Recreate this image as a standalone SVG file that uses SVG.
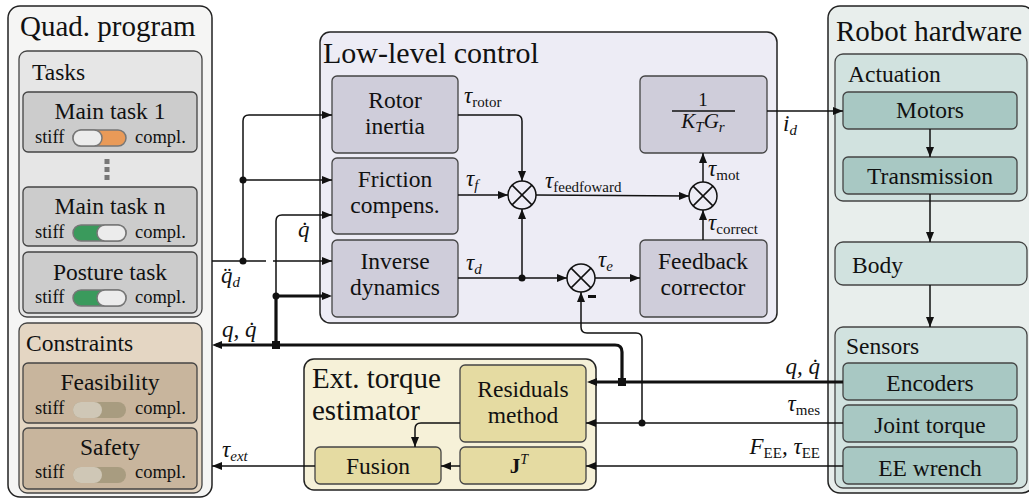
<svg xmlns="http://www.w3.org/2000/svg" width="1029" height="500" viewBox="0 0 1029 500">
<defs>
<style>
text{font-family:'Liberation Serif',serif;fill:#111}
.title{font-size:29px}
.lbl{font-size:23.5px;text-anchor:middle}
.hd{font-size:23.5px}
.sm{font-size:18.5px}
.m{font-style:italic;font-size:23px}
.sub{font-size:15px;font-style:normal}
.subi{font-size:15px;font-style:italic}
.panel{stroke:#222;stroke-width:1.5}
.box{stroke:#444;stroke-width:1.3}
.ln{fill:none;stroke:#111;stroke-width:1.5}
.thk{fill:none;stroke:#111;stroke-width:3.2}
.dot{fill:#111}
.tg{stroke:#777;stroke-width:1.5}
</style>
<marker id="ah" viewBox="0 0 10 8" refX="10" refY="4" markerWidth="10" markerHeight="8" markerUnits="userSpaceOnUse" orient="auto"><path d="M0,0 L10,4 L0,8 z" fill="#111"/></marker>
<marker id="ahT" viewBox="0 0 10 8" refX="6" refY="4" markerWidth="10" markerHeight="8" markerUnits="userSpaceOnUse" orient="auto"><path d="M0,0 L10,4 L0,8 z" fill="#111"/></marker>
</defs>
<rect width="1029" height="500" fill="#ffffff"/>

<!-- Quad program -->
<g id="quad-program">
<rect class="panel" x="8" y="6" width="204" height="491" rx="12" fill="#f5f5f4"/>
<text class="title" x="20" y="36">Quad. program</text>
</g>
<g id="tasks">
<rect class="box" x="19" y="51" width="183" height="266" rx="8" fill="#e6e6e6"/>
<text class="hd" x="32" y="80">Tasks</text>
</g>
<g id="main-task-1">
<rect class="box" x="23" y="92" width="174" height="60" rx="5" fill="#cccccc"/>
<text class="lbl" x="110" y="119">Main task 1</text>
<text class="sm" x="35" y="143">stiff</text>
<text class="sm" x="135" y="143">compl.</text>
<rect class="tg" x="73" y="130" width="53" height="16" rx="8" fill="#e99a58"/>
<rect class="tg" x="73" y="130" width="29" height="16" rx="8" fill="#ececec"/>
</g>
<g id="dots" fill="#777">
<rect x="104.5" y="159" width="5" height="5"/>
<rect x="104.5" y="167" width="5" height="5"/>
<rect x="104.5" y="175" width="5" height="5"/>
</g>
<g id="main-task-n">
<rect class="box" x="23" y="187" width="174" height="59" rx="5" fill="#cccccc"/>
<text class="lbl" x="110" y="214">Main task n</text>
<text class="sm" x="35" y="238">stiff</text>
<text class="sm" x="135" y="238">compl.</text>
<rect class="tg" x="73" y="225" width="53" height="16" rx="8" fill="#3a9a5c"/>
<rect class="tg" x="97" y="225" width="29" height="16" rx="8" fill="#ececec"/>
</g>
<g id="posture-task">
<rect class="box" x="23" y="252" width="174" height="61" rx="5" fill="#cccccc"/>
<text class="lbl" x="110" y="280">Posture task</text>
<text class="sm" x="35" y="303">stiff</text>
<text class="sm" x="135" y="303">compl.</text>
<rect class="tg" x="73" y="290" width="53" height="16" rx="8" fill="#3a9a5c"/>
<rect class="tg" x="97" y="290" width="29" height="16" rx="8" fill="#ececec"/>
</g>
<g id="constraints">
<rect class="box" x="19" y="323" width="183" height="170" rx="8" fill="#e4d6c3"/>
<text class="hd" x="26" y="351">Constraints</text>
</g>
<g id="feasibility">
<rect class="box" x="23" y="363" width="174" height="60" rx="5" fill="#c8b59d"/>
<text class="lbl" x="110" y="390">Feasibility</text>
<text class="sm" x="35" y="414">stiff</text>
<text class="sm" x="135" y="414">compl.</text>
<rect x="73" y="402" width="53" height="16" rx="8" fill="#a89c80"/>
<rect x="73" y="402" width="29" height="16" rx="8" fill="#cfc7b6"/>
</g>
<g id="safety">
<rect class="box" x="23" y="428" width="174" height="61" rx="5" fill="#c8b59d"/>
<text class="lbl" x="110" y="455">Safety</text>
<text class="sm" x="35" y="478">stiff</text>
<text class="sm" x="135" y="478">compl.</text>
<rect x="73" y="467" width="53" height="16" rx="8" fill="#a89c80"/>
<rect x="73" y="467" width="29" height="16" rx="8" fill="#cfc7b6"/>
</g>

<!-- Low-level control -->
<g id="low-level-control">
<rect class="panel" x="320" y="32" width="457" height="291" rx="10" fill="#edecf5"/>
<text class="title" x="323" y="63" style="font-size:30px">Low-level control</text>
</g>
<g id="rotor-inertia">
<rect class="box" x="332" y="76" width="126" height="77" rx="5" fill="#cfcdda"/>
<text class="lbl" x="395" y="108">Rotor</text>
<text class="lbl" x="395" y="134">inertia</text>
</g>
<g id="friction-compens">
<rect class="box" x="332" y="158" width="126" height="76" rx="5" fill="#cfcdda"/>
<text class="lbl" x="395" y="187">Friction</text>
<text class="lbl" x="395" y="213">compens.</text>
</g>
<g id="inverse-dynamics">
<rect class="box" x="332" y="240" width="126" height="77" rx="5" fill="#cfcdda"/>
<text class="lbl" x="395" y="269">Inverse</text>
<text class="lbl" x="395" y="295">dynamics</text>
</g>
<g id="motor-gain">
<rect class="box" x="640" y="76" width="127" height="77" rx="5" fill="#cfcdda"/>
<text x="703" y="106" text-anchor="middle" style="font-size:19px">1</text>
<line x1="672" y1="111" x2="735" y2="111" stroke="#111" stroke-width="1.5"/>
<text x="703" y="128" text-anchor="middle" class="m" style="font-size:21px">K<tspan class="subi" dy="4">T</tspan><tspan dy="-4">G</tspan><tspan class="subi" dy="4">r</tspan></text>
</g>
<g id="feedback-corrector">
<rect class="box" x="640" y="240" width="127" height="77" rx="5" fill="#cfcdda"/>
<text class="lbl" x="703" y="269">Feedback</text>
<text class="lbl" x="703" y="295">corrector</text>
</g>
<g id="sum-1" class="ln">
<circle cx="522" cy="195" r="14" fill="#edecf5"/>
<path d="M512.1,185.1 L531.9,204.9 M531.9,185.1 L512.1,204.9"/>
</g>
<g id="sum-2" class="ln">
<circle cx="581" cy="278" r="14" fill="#edecf5"/>
<path d="M571.1,268.1 L590.9,287.9 M590.9,268.1 L571.1,287.9"/>
</g>
<rect x="588" y="295" width="8" height="3" fill="#111"/>
<g id="sum-3" class="ln">
<circle cx="703" cy="196" r="14" fill="#edecf5"/>
<path d="M693.1,186.1 L712.9,205.9 M712.9,186.1 L693.1,205.9"/>
</g>

<!-- Ext torque estimator -->
<g id="ext-torque-estimator">
<rect class="panel" x="304" y="359" width="292" height="131" rx="10" fill="#f6f1d8"/>
<text class="title" x="312" y="388">Ext. torque</text>
<text class="title" x="312" y="420">estimator</text>
</g>
<g id="residuals-method">
<rect class="box" x="460" y="365" width="126" height="77" rx="5" fill="#e5dba2"/>
<text class="lbl" x="523" y="397">Residuals</text>
<text class="lbl" x="523" y="423">method</text>
</g>
<g id="jacobian-t">
<rect class="box" x="460" y="447" width="126" height="37" rx="5" fill="#e5dba2"/>
<text x="519" y="473" text-anchor="middle" style="font-size:21px;font-weight:bold">J<tspan dy="-9" style="font-size:14px;font-style:italic;font-weight:normal">T</tspan></text>
</g>
<g id="fusion">
<rect class="box" x="315" y="447" width="126" height="37" rx="5" fill="#e5dba2"/>
<text class="lbl" x="378" y="474">Fusion</text>
</g>

<!-- Robot hardware -->
<g id="robot-hardware">
<rect class="panel" x="828" y="6" width="206" height="487" rx="12" fill="#e8eeec"/>
<text class="title" x="836" y="41">Robot hardware</text>
</g>
<g id="actuation">
<rect class="box" x="835" y="54" width="192" height="147" rx="8" fill="#d1e2df"/>
<text class="hd" x="848" y="82">Actuation</text>
</g>
<g id="motors">
<rect class="box" x="843" y="92" width="174" height="37" rx="5" fill="#a8c8c3"/>
<text class="lbl" x="930" y="118">Motors</text>
</g>
<g id="transmission">
<rect class="box" x="843" y="157" width="174" height="37" rx="5" fill="#a8c8c3"/>
<text class="lbl" x="930" y="184">Transmission</text>
</g>
<g id="body">
<rect class="box" x="835" y="242" width="192" height="43" rx="8" fill="#d1e2df"/>
<text class="hd" x="852" y="273">Body</text>
</g>
<g id="sensors">
<rect class="box" x="835" y="327" width="192" height="161" rx="8" fill="#d1e2df"/>
<text class="hd" x="846" y="354">Sensors</text>
</g>
<g id="encoders">
<rect class="box" x="843" y="363" width="174" height="37" rx="5" fill="#a8c8c3"/>
<text class="lbl" x="930" y="391">Encoders</text>
</g>
<g id="joint-torque">
<rect class="box" x="843" y="405" width="174" height="37" rx="5" fill="#a8c8c3"/>
<text class="lbl" x="930" y="433">Joint torque</text>
</g>
<g id="ee-wrench">
<rect class="box" x="843" y="447" width="174" height="37" rx="5" fill="#a8c8c3"/>
<text class="lbl" x="930" y="476">EE wrench</text>
</g>

<!-- Connectors -->
<g id="connectors">
<path class="ln" d="M212,261 L266,261 M273,261 L332,261" marker-end="url(#ah)"/>
<path class="ln" d="M243,261 L243,121 Q243,115 249,115 L332,115" marker-end="url(#ah)"/>
<path class="ln" d="M243,180 L332,180" marker-end="url(#ah)"/>
<path class="ln" d="M276,296 L276,221 Q276,215 282,215 L332,215" marker-end="url(#ah)"/>
<path class="thk" d="M276,345 L276,296 L328,296" marker-end="url(#ahT)"/>
<path class="thk" d="M843,382 L591,382" marker-end="url(#ahT)"/>
<path class="thk" d="M622,382 L622,352 Q622,345 615,345 L216,345" marker-end="url(#ahT)"/>
<path class="ln" d="M458,115 L516,115 Q522,115 522,121 L522,181" marker-end="url(#ah)"/>
<path class="ln" d="M458,195 L508,195" marker-end="url(#ah)"/>
<path class="ln" d="M458,278 L567,278" marker-end="url(#ah)"/>
<path class="ln" d="M522,278 L522,209" marker-end="url(#ah)"/>
<path class="ln" d="M536,195 L689,196" marker-end="url(#ah)"/>
<path class="ln" d="M703,182 L703,153" marker-end="url(#ah)"/>
<path class="ln" d="M703,240 L703,210" marker-end="url(#ah)"/>
<path class="ln" d="M595,278 L640,278" marker-end="url(#ah)"/>
<path class="ln" d="M642,423 L642,339 Q642,333 636,333 L587,333 Q581,333 581,327 L581,292" marker-end="url(#ah)"/>
<path class="ln" d="M767,111 L843,111" marker-end="url(#ah)"/>
<path class="ln" d="M460,423 L421,423 Q415,423 415,429 L415,447" marker-end="url(#ah)"/>
<path class="ln" d="M460,466 L441,466" marker-end="url(#ah)"/>
<path class="ln" d="M315,466 L212,466" marker-end="url(#ah)"/>
<path class="ln" d="M843,423 L586,423" marker-end="url(#ah)"/>
<path class="ln" d="M843,466 L586,466" marker-end="url(#ah)"/>
<path class="ln" d="M930,129 L930,157" marker-end="url(#ah)"/>
<path class="ln" d="M930,194 L930,242" marker-end="url(#ah)"/>
<path class="ln" d="M930,285 L930,327" marker-end="url(#ah)"/>
<circle class="dot" cx="243" cy="261" r="3.5"/>
<circle class="dot" cx="243" cy="180" r="3.5"/>
<circle class="dot" cx="276" cy="296" r="3.5"/>
<rect class="dot" x="272" y="341" width="8" height="8"/>
<rect class="dot" x="618" y="378" width="8" height="8"/>
<circle class="dot" cx="522" cy="278" r="3.5"/>
<circle class="dot" cx="642" cy="423" r="3.5"/>
</g>

<!-- Connector labels -->
<g id="labels">
<text class="m" x="221" y="283">q̈<tspan class="subi" dy="4">d</tspan></text>
<text class="m" x="298" y="237">q̇</text>
<text class="m" x="222" y="337">q, q̇</text>
<text class="m" x="222" y="457">τ<tspan class="subi" dy="4">ext</tspan></text>
<text class="m" x="464" y="103">τ<tspan class="sub" dy="4">rotor</tspan></text>
<text class="m" x="466" y="186">τ<tspan class="subi" dy="4">f</tspan></text>
<text class="m" x="466" y="270">τ<tspan class="subi" dy="4">d</tspan></text>
<text class="m" x="545" y="188">τ<tspan class="sub" dy="4">feedfoward</tspan></text>
<text class="m" x="708" y="176">τ<tspan class="sub" dy="4">mot</tspan></text>
<text class="m" x="708" y="230">τ<tspan class="sub" dy="4">correct</tspan></text>
<text class="m" x="598" y="267">τ<tspan class="subi" dy="4">e</tspan></text>
<text class="m" x="783" y="131">i<tspan class="subi" dy="4">d</tspan></text>
<text class="m" x="820" y="374" text-anchor="end">q, q̇</text>
<text class="m" x="820" y="411" text-anchor="end">τ<tspan class="sub" dy="4">mes</tspan></text>
<text class="m" x="820" y="454" text-anchor="end">F<tspan class="sub" dy="4">EE</tspan><tspan dy="-4">, τ</tspan><tspan class="sub" dy="4">EE</tspan></text>
</g>
</svg>
